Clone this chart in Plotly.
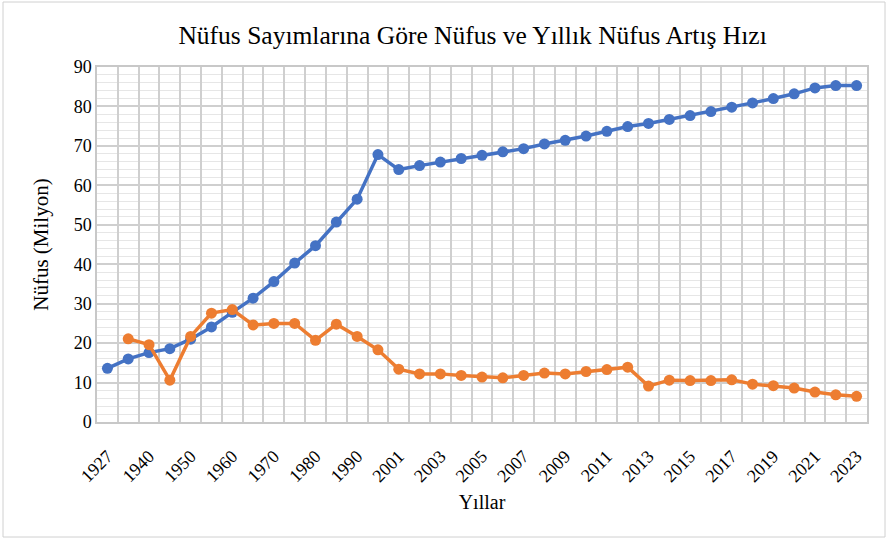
import plotly.graph_objects as go

years = ["1927", "1935", "1940", "1945", "1950", "1955", "1960", "1965", "1970", "1975",
         "1980", "1985", "1990", "2000", "2001", "2002", "2003", "2004", "2005", "2006",
         "2007", "2008", "2009", "2010", "2011", "2012", "2013", "2014", "2015", "2016",
         "2017", "2018", "2019", "2020", "2021", "2022", "2023"]

population = [13.6, 16.0, 17.6, 18.6, 21.0, 24.1, 27.8, 31.4, 35.6, 40.3,
              44.7, 50.7, 56.5, 67.8, 64.0, 65.0, 65.9, 66.8, 67.6, 68.5,
              69.3, 70.5, 71.4, 72.5, 73.7, 74.9, 75.7, 76.7, 77.7, 78.7,
              79.8, 80.9, 82.0, 83.2, 84.7, 85.3, 85.3]

growth = [None, 21.1, 19.6, 10.6, 21.7, 27.6, 28.5, 24.6, 25.0, 25.0,
          20.7, 24.8, 21.7, 18.3, 13.4, 12.2, 12.2, 11.8, 11.4, 11.2,
          11.8, 12.4, 12.2, 12.8, 13.3, 13.9, 9.1, 10.6, 10.5, 10.5,
          10.7, 9.6, 9.2, 8.6, 7.6, 6.9, 6.5]

tick_text = [y if i % 2 == 0 else "" for i, y in enumerate(years)]

fig = go.Figure()
fig.add_trace(go.Scatter(x=years, y=population, mode="lines+markers",
                         line=dict(color="#4472C4", width=3.5),
                         marker=dict(color="#4472C4", size=11),
                         name="Nüfus", cliponaxis=False))
fig.add_trace(go.Scatter(x=years, y=growth, mode="lines+markers",
                         line=dict(color="#ED7D31", width=3.5),
                         marker=dict(color="#ED7D31", size=11),
                         name="Yıllık Nüfus Artış Hızı", cliponaxis=False))

serif = "Liberation Serif, Times New Roman, serif"

fig.update_layout(
    width=890, height=543,
    margin=dict(l=97, r=23, t=67, b=121),
    paper_bgcolor="white", plot_bgcolor="white",
    showlegend=False,
    font=dict(family=serif, color="#000000", size=16),
    title=dict(text="Nüfus Sayımlarına Göre Nüfus ve Yıllık Nüfus Artış Hızı",
               x=0.531, xanchor="center", y=0.935, yanchor="middle",
               font=dict(family=serif, size=25.5, color="#000000")),
    xaxis=dict(type="category", tickmode="array", tickvals=years, ticktext=tick_text,
               tickson="boundaries", tickangle=-45, showgrid=True,
               gridcolor="#cfcfcf", gridwidth=1.5, ticks="",
               ticklabelstandoff=15,
               showline=True, linecolor="#c8c8c8", linewidth=1.5, mirror=True,
               range=[-0.5, 36.5],
               tickfont=dict(family=serif, size=18),
               title=dict(text="Yıllar", font=dict(family=serif, size=20), standoff=10)),
    yaxis=dict(range=[0, 90], dtick=10, showgrid=True, gridcolor="#cfcfcf", gridwidth=1.5,
               minor=dict(dtick=2, showgrid=True, gridcolor="#e6e6e6", gridwidth=1),
               showline=True, linecolor="#c8c8c8", linewidth=1.5, mirror=True,
               zeroline=False, ticks="",
               tickfont=dict(family=serif, size=18),
               title=dict(text="Nüfus (Milyon)", font=dict(family=serif, size=21), standoff=19)),
)

fig.add_shape(type="rect", xref="paper", yref="paper",
              x0=(3 - 97) / 770, x1=(885 - 97) / 770,
              y0=(422 - 537) / 355, y1=(422 - 2) / 355,
              line=dict(color="#d0d0d0", width=1), layer="below")

fig.write_html("out.html", config={"displayModeBar": False},
               post_script="document.body.style.margin='0';")
